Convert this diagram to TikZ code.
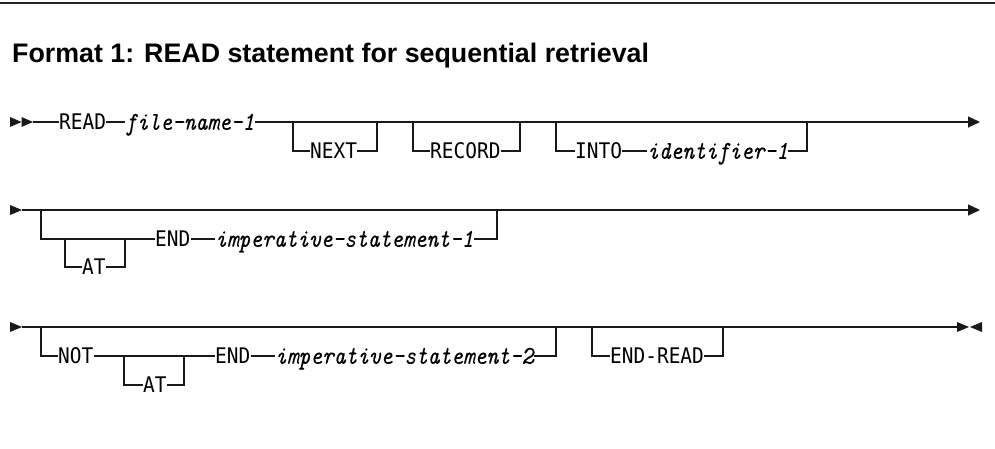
\documentclass[tikz,border=0pt]{standalone}
\usepackage{fontspec}
\usetikzlibrary{arrows.meta}
\newfontfamily\kwfont{DejaVu Sans Mono}[FakeStretch=0.905]
\newfontfamily\titlefont{Liberation Sans}
\newfontfamily\varfont{lmmono10-italic.otf}[FakeStretch=0.87, FakeBold=0.2]
\begin{document}
\begin{tikzpicture}[x=1pt,y=-1pt]
\tikzset{
 lbl/.style={inner xsep=0pt, inner ysep=0pt, text height=15.6pt, text depth=0pt, anchor=west},
 kw/.style={lbl, font=\kwfont\fontsize{21.5}{24}\selectfont},
 var/.style={lbl, font=\varfont\fontsize{25.7}{28}\selectfont},
 rail/.style={line width=1.2pt, draw=black!90},
 tip/.style={-{Triangle[length=12pt,width=11pt]}},
 headfill/.style={fill=black!90},
}
\useasboundingbox (0,0) rectangle (995,449);
% top rule
\draw[line width=2.4pt, black!85] (0,3) -- (995,3);
% title
\node[anchor=base west, inner sep=0pt, font=\titlefont\bfseries\fontsize{26.8}{30}\selectfont] (title) at (12,63) {Format 1: READ statement for sequential retrieval};

% ---------- Row 1 ----------
\fill[headfill] (10,117) -- (21.5,122) -- (10,127) -- cycle;
\fill[headfill] (21.5,117) -- (33,122) -- (21.5,127) -- cycle;
\coordinate (s1) at (33,122);
\coordinate (e1) at (980,122);
\node[kw] (read) at (59,122) {READ};
\node[var] (fn1) at (125,122) {file-name-1};
\draw[rail] (s1) -- (read.west);
\draw[rail] (read.east) -- (fn1.west);
\draw[rail,tip] (fn1.east) -- (e1);
% NEXT
\coordinate (nx1) at (293,122);
\coordinate (nx2) at (377,122);
\node[kw] (next) at (310,151) {NEXT};
\draw[rail] (nx1) |- (next.west);
\draw[rail] (next.east) -| (nx2);
% RECORD
\coordinate (rc1) at (413,122);
\coordinate (rc2) at (520,122);
\node[kw] (record) at (430,151) {RECORD};
\draw[rail] (rc1) |- (record.west);
\draw[rail] (record.east) -| (rc2);
% INTO identifier-1
\coordinate (in1) at (556,122);
\coordinate (in2) at (807,122);
\node[kw] (into) at (575,151) {INTO};
\node[var] (id1) at (647,151) {identifier-1};
\draw[rail] (in1) |- (into.west);
\draw[rail] (into.east) -- (id1.west);
\draw[rail] (id1.east) -| (in2);

% ---------- Row 2 ----------
\fill[headfill] (10,205) -- (22,210) -- (10,215) -- cycle;
\coordinate (s2) at (22,210);
\coordinate (e2) at (980,210);
\draw[rail,tip] (s2) -- (e2);
\coordinate (b2a) at (41,210);
\coordinate (b2b) at (497,210);
\coordinate (a2a) at (65,239);
\coordinate (a2b) at (125,239);
\node[kw] (end2) at (155,239) {END};
\node[var] (im1) at (215,239) {imperative-statement-1};
\node[kw] (at2) at (82,267) {AT};
\draw[rail] (b2a) |- (end2.west);
\draw[rail] (a2a) |- (at2.west);
\draw[rail] (at2.east) -| (a2b);
\draw[rail] (end2.east) -- (im1.west);
\draw[rail] (im1.east) -| (b2b);

% ---------- Row 3 ----------
\fill[headfill] (10,322) -- (22,327) -- (10,332) -- cycle;
\coordinate (s3) at (22,327);
\coordinate (e3) at (957,327);
\draw[rail] (s3) -- (e3);
\fill[headfill] (957,322) -- (969,327) -- (957,332) -- cycle;
\fill[headfill] (982,322) -- (970,327) -- (982,332) -- cycle;
\coordinate (b3a) at (41,327);
\coordinate (b3b) at (556,327);
\coordinate (a3a) at (124,356);
\coordinate (a3b) at (184,356);
\node[kw] (not) at (58,356) {NOT};
\node[kw] (at3) at (143,385) {AT};
\node[kw] (end3) at (215,356) {END};
\node[var] (im2) at (275,356) {imperative-statement-2};
\draw[rail] (b3a) |- (not.west);
\draw[rail] (not.east) -- (end3.west);
\draw[rail] (a3a) |- (at3.west);
\draw[rail] (at3.east) -| (a3b);
\draw[rail] (end3.east) -- (im2.west);
\draw[rail] (im2.east) -| (b3b);
% END-READ
\coordinate (er1) at (592,327);
\coordinate (er2) at (723,327);
\node[kw] (endread) at (610,356) {END-READ};
\draw[rail] (er1) |- (endread.west);
\draw[rail] (endread.east) -| (er2);
\end{tikzpicture}
\end{document}
